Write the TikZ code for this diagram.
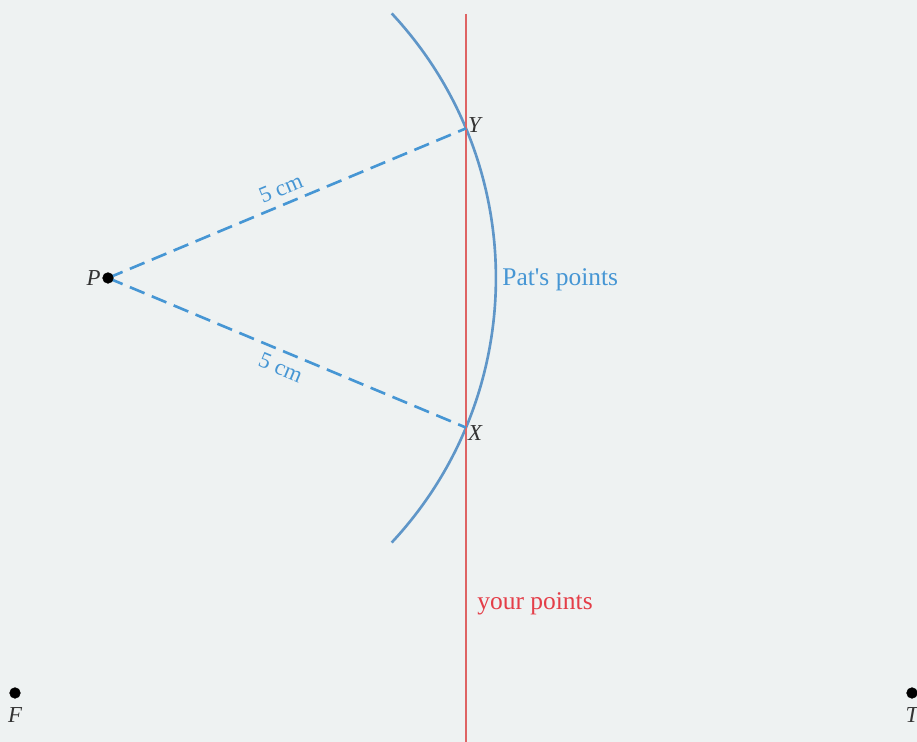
\documentclass[tikz,border=0pt]{standalone}
\usepackage{fontspec}
\setmainfont{Liberation Serif}
\definecolor{paper}{RGB}{238,242,242}
\definecolor{patblue}{RGB}{70,150,212}
\definecolor{arcblue}{RGB}{95,150,200}
\definecolor{yourred}{RGB}{228,62,72}
\definecolor{linered}{RGB}{222,100,100}
\begin{document}
\begin{tikzpicture}[x=0.02cm,y=0.02cm,
  lbl/.style={font=\fontsize{13}{15}\selectfont\itshape,text=black!80,inner sep=1pt},
  dimtext/.style={font=\fontsize{13}{15}\selectfont,text=patblue,inner sep=4pt}]
\fill[paper] (0,0) rectangle (917,742);
\useasboundingbox (0,0) rectangle (917,742);
\coordinate (P) at (108,464);
\coordinate (Y) at (466,613.6);
\coordinate (X) at (466,314.4);
\coordinate (rtop) at (466,728);
\coordinate (rbot) at (466,0);
\coordinate (F) at (15,49);
\coordinate (T) at (912,49);
% locus of points 5 cm from P
\draw[arcblue,line width=1.5pt] (P) ++(-43:7.76cm) arc[start angle=-43,end angle=43,radius=7.76cm];
\draw[linered,line width=1.2pt] (rtop)--(rbot);
\draw[patblue,line width=1.5pt,dash pattern=on 9pt off 4.5pt] (P)--(Y) node[dimtext,midway,above,sloped]{5 cm};
\draw[patblue,line width=1.5pt,dash pattern=on 9pt off 4.5pt] (P)--(X) node[dimtext,midway,below,sloped]{5 cm};
\filldraw[black] (P) circle (3pt);
\filldraw[black] (F) circle (3pt);
\filldraw[black] (T) circle (3pt);
\node[lbl,left] at ([xshift=-3pt]P) {P};
\node[lbl,anchor=west] at ([yshift=2pt]Y) {Y};
\node[lbl,anchor=west] at ([yshift=-3pt]X) {X};
\node[lbl,below] at ([yshift=-7pt]F) {F};
\node[lbl,below] at ([yshift=-7pt]T) {T};
\node[font=\fontsize{14.5}{17}\selectfont,text=patblue,anchor=west,inner sep=0pt] at (502,462) {Pat\textquotesingle s points};
\node[font=\fontsize{14.5}{17}\selectfont,text=yourred,anchor=west,inner sep=0pt] at (477,138) {your points};
\end{tikzpicture}
\end{document}
